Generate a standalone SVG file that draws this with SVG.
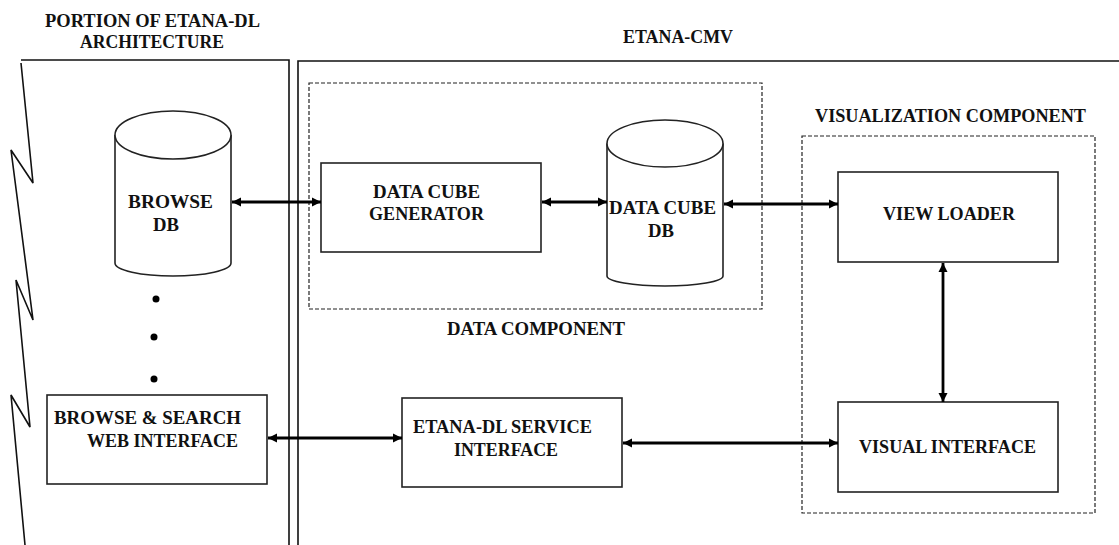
<svg xmlns="http://www.w3.org/2000/svg" width="1119" height="545" viewBox="0 0 1119 545">
<style>
  .t { font-family: "Liberation Serif", "DejaVu Serif", "Times New Roman", serif; font-weight: bold; font-size: 19px; fill: #111; }
  .box { fill: #fff; stroke: #222; stroke-width: 1.6; }
  .line { fill: none; stroke: #111; stroke-width: 1.6; }
  .dash { fill: none; stroke: #222; stroke-width: 1.2; stroke-dasharray: 4 2; }
  .conn { fill: none; stroke: #000; stroke-width: 2.8; marker-start: url(#ah); marker-end: url(#ah); }
</style>
<defs>
  <marker id="ah" viewBox="0 0 10 10" refX="10" refY="5" markerWidth="9" markerHeight="10" markerUnits="userSpaceOnUse" orient="auto-start-reverse">
    <path d="M0 0 L10 5 L0 10 Z" fill="#000"/>
  </marker>
</defs>
<rect width="1119" height="545" fill="#fff"/>

<g id="panels">
  <polyline class="line" points="21,63 33,183 11,150 33,320 16,280 30,427 11,395 25,545"/>
  <polyline class="line" points="21,60 289,60 289,545"/>
  <polyline class="line" points="298,545 298,61 1119,61"/>
  <text class="t" x="45" y="27" textLength="215" lengthAdjust="spacingAndGlyphs">PORTION OF ETANA-DL</text>
  <text class="t" x="80" y="48" textLength="144" lengthAdjust="spacingAndGlyphs">ARCHITECTURE</text>
  <text class="t" x="623" y="43" textLength="110" lengthAdjust="spacingAndGlyphs">ETANA-CMV</text>
</g>

<g id="data-component">
  <rect class="dash" x="309" y="83" width="453" height="226"/>
  <text class="t" x="447" y="335" textLength="178" lengthAdjust="spacingAndGlyphs">DATA COMPONENT</text>
</g>

<g id="visualization-component">
  <rect class="dash" x="802" y="136" width="293" height="377"/>
  <text class="t" x="815" y="122" textLength="271" lengthAdjust="spacingAndGlyphs">VISUALIZATION COMPONENT</text>
</g>

<g id="browse-db">
  <path class="box" d="M115 135 V263 A58 13 0 0 0 231 263 V135"/>
  <ellipse class="box" cx="173" cy="135" rx="58" ry="24"/>
  <text class="t" x="128" y="208" textLength="85" lengthAdjust="spacingAndGlyphs">BROWSE</text>
  <text class="t" x="153" y="231" textLength="26" lengthAdjust="spacingAndGlyphs">DB</text>
</g>

<g id="dots">
  <circle cx="156" cy="299" r="3.5" fill="#000"/>
  <circle cx="154" cy="337" r="3.5" fill="#000"/>
  <circle cx="154" cy="379" r="3.5" fill="#000"/>
</g>

<g id="browse-search">
  <rect class="box" x="47" y="395" width="220" height="89"/>
  <text class="t" x="54" y="424" textLength="187" lengthAdjust="spacingAndGlyphs">BROWSE &amp; SEARCH</text>
  <text class="t" x="87" y="447" textLength="151" lengthAdjust="spacingAndGlyphs">WEB INTERFACE</text>
</g>

<g id="data-cube-generator">
  <rect class="box" x="321" y="163" width="220" height="89"/>
  <text class="t" x="373" y="198" textLength="107" lengthAdjust="spacingAndGlyphs">DATA CUBE</text>
  <text class="t" x="369" y="220" textLength="115" lengthAdjust="spacingAndGlyphs">GENERATOR</text>
</g>

<g id="data-cube-db">
  <path class="box" d="M607 143.5 V276 A58 10 0 0 0 723 276 V143.5"/>
  <ellipse class="box" cx="665" cy="143.5" rx="58" ry="23.5"/>
  <text class="t" x="609" y="214" textLength="107" lengthAdjust="spacingAndGlyphs">DATA CUBE</text>
  <text class="t" x="648" y="237" textLength="26" lengthAdjust="spacingAndGlyphs">DB</text>
</g>

<g id="view-loader">
  <rect class="box" x="838" y="172" width="220" height="90"/>
  <text class="t" x="883" y="220" textLength="132" lengthAdjust="spacingAndGlyphs">VIEW LOADER</text>
</g>

<g id="visual-interface">
  <rect class="box" x="838" y="402" width="220" height="90"/>
  <text class="t" x="859" y="453" textLength="177" lengthAdjust="spacingAndGlyphs">VISUAL INTERFACE</text>
</g>

<g id="service-interface">
  <rect class="box" x="402" y="398" width="220" height="89"/>
  <text class="t" x="413" y="433" textLength="179" lengthAdjust="spacingAndGlyphs">ETANA-DL SERVICE</text>
  <text class="t" x="454" y="456" textLength="104" lengthAdjust="spacingAndGlyphs">INTERFACE</text>
</g>

<g id="connectors">
  <line class="conn" x1="232" y1="202" x2="321" y2="202"/>
  <line class="conn" x1="542" y1="202" x2="607" y2="202"/>
  <line class="conn" x1="724" y1="204" x2="838" y2="204"/>
  <line class="conn" x1="943" y1="263" x2="943" y2="402"/>
  <line class="conn" x1="268" y1="438" x2="402" y2="438"/>
  <line class="conn" x1="623" y1="443" x2="838" y2="443"/>
</g>
</svg>
